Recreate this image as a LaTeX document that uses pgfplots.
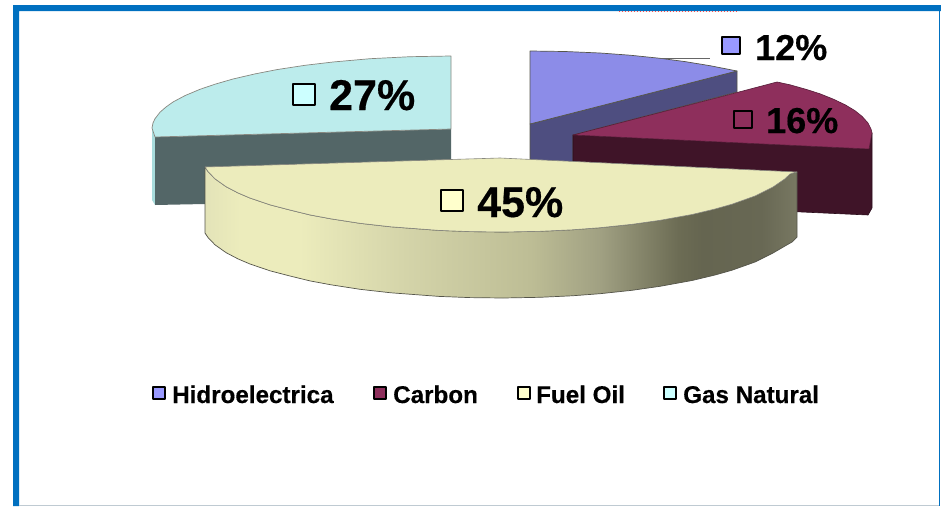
\documentclass[border=0pt]{standalone}
\usepackage{fontspec}
\setmainfont{Liberation Sans}[BoldFeatures={FakeBold=0.4}]
\usepackage{pgfplots}
\pgfplotsset{compat=1.18}

\definecolor{frameblue}{HTML}{0070C0}
\definecolor{hydroTop}{HTML}{8C8CE8}
\definecolor{hydroSide}{HTML}{4E4E80}
\definecolor{hydroKey}{HTML}{9999FF}
\definecolor{coalTop}{HTML}{8E2F5C}
\definecolor{coalSide}{HTML}{3F1428}
\definecolor{oilTop}{HTML}{ECECBC}
\definecolor{oilKey}{HTML}{FFFFCC}
\definecolor{gasTop}{HTML}{BCECEC}
\definecolor{gasSide}{HTML}{536667}
\definecolor{gasEdge}{HTML}{A8DCDC}
\definecolor{gasKey}{HTML}{CCFFFF}
\definecolor{rimline}{HTML}{55554A}
\definecolor{rimA}{HTML}{E3E3B8}
\definecolor{rimB}{HTML}{D5D5AA}
\definecolor{rimC}{HTML}{BDBD95}
\definecolor{rimD}{HTML}{A0A082}
\definecolor{rimE}{HTML}{6C6C54}
\definecolor{rimF}{HTML}{656550}
\definecolor{rimG}{HTML}{686854}
\definecolor{rimH}{HTML}{787862}

% Cylindrical light falling across the rim of the fuel oil slice
\pgfdeclarehorizontalshading{oilrim}{100bp}{
  color(0bp)=(rimA);
  color(25bp)=(rimA);
  color(28bp)=(oilTop);
  color(33bp)=(oilTop);
  color(41.5bp)=(rimB);
  color(52.5bp)=(rimC);
  color(58.4bp)=(rimD);
  color(65bp)=(rimE);
  color(67bp)=(rimF);
  color(72bp)=(rimG);
  color(75bp)=(rimH);
  color(100bp)=(rimH)}

\newcommand{\pct}[4]{\node[anchor=base west,inner sep=0pt,font=\fontsize{#3}{#3}\selectfont\bfseries] at (axis cs:#1,#2) {#4};}
\newcommand{\key}[3]{\node[anchor=base west,inner sep=0pt,font=\fontsize{24.2}{24}\selectfont\bfseries] at (axis cs:#1,#2) {#3};}

\begin{document}
\begin{tikzpicture}
\begin{axis}[
  width=941pt, height=506pt, scale only axis,
  xmin=0, xmax=941, ymin=0, ymax=506, y dir=reverse,
  hide axis, enlargelimits=false,
  every axis plot/.append style={line join=round},
  slice/.style={draw=rimline, line width=0.7pt},
  swatch/.style={draw=black, line width=1.7pt},
]
% Slide background and frame
\addplot[fill=white, draw=none] coordinates {(0,0) (941,0) (941,506) (0,506)} --cycle;
\addplot[fill=frameblue, draw=none] coordinates {(13,5) (941,5) (941,11) (19,11) (19,506) (13,506)} --cycle;
\addplot[draw=frameblue, line width=1pt] coordinates {(939.5,11) (939.5,506)};
\addplot[draw=frameblue!25!gray!40, line width=1pt] coordinates {(19,505.5) (939,505.5)};
\addplot[draw=red!70, line width=1pt, dotted] coordinates {(619,11.8) (738,11.8)};

% Gas Natural, 27%
\addplot[fill=gasEdge, draw=none] coordinates {(152,128) (155,137) (155,205) (152,200)} --cycle;
\addplot[fill=gasSide, draw=none] coordinates {(155,137) (451,129) (451,162) (205,170) (205,204) (155,205)} --cycle;
\addplot[fill=gasTop, slice, draw=rimline!70] coordinates {(451,56) (410,56.7) (370,58.7) (333,62) (305,65.3) (277,69.6) (255,73.9) (233,79) (215,84.2) (200,89.3) (185,95.6) (173,102) (166,107) (160,112.2) (155,118.7) (153,123) (152,128) (155,137) (451,129)} --cycle;

% Hidroelectrica, 12%
\addplot[fill=hydroSide, slice] coordinates {(530,124) (737,71) (737,92) (573,135) (573,165) (530,165)} --cycle;
\addplot[fill=hydroTop, slice] coordinates {(530,51) (565,51.5) (600,53) (630,55.2) (660,58.3) (685,61.6) (710,65.7) (737,71) (530,124)} --cycle;
\addplot[draw=gray!80!black, line width=0.8pt] coordinates {(660,58) (710,58)};

% Carbon, 16%
\addplot[fill=coalSide, draw=coalSide!70!black, line width=0.6pt] coordinates {(573,135) (869,149) (872,133) (872,208) (868,215) (780,211) (573,202)} --cycle;
\addplot[fill=coalTop, draw=coalTop!60!black, line width=0.6pt] coordinates {(573,135) (720,97) (777,82) (790,84.8) (807,89.6) (820,93.8) (833,99) (845,104.7) (855,110.7) (862,116.3) (868,123) (871,129) (872,133) (869,149)} --cycle;

% Fuel Oil, 45%
\addplot[shading=oilrim, draw=rimline, line width=0.7pt] coordinates {(205,167) (205,233) (208,237.5) (215,244.8) (226,252.6) (238,258.9) (250,264) (270,270.8) (290,276) (310,280.9) (331,284.8) (360,289.3) (391,292.8) (439,296.4) (470,297.6) (503,298) (540,297.3) (572,295.8) (600,293.7) (632,290.3) (660,286.3) (692,280.5) (715,275) (732,270.2) (755,262) (773,253) (785,246) (792,242) (797,237) (797,172) (790,174) (785,178.8) (773,187) (755,196) (732,204.2) (715,209) (692,214.5) (660,220.3) (632,224.3) (600,227.7) (572,229.8) (540,231.3) (503,232) (470,231.6) (439,230.4) (391,226.8) (360,223.3) (331,218.8) (310,214.9) (290,210) (270,204.8) (250,198) (238,192.9) (226,186.6) (215,178.8) (208,171.5)} --cycle;
\addplot[fill=oilTop, draw=rimline!70, line width=0.6pt] coordinates {(205,167) (500,158) (797,172) (790,174) (785,178.8) (773,187) (755,196) (732,204.2) (715,209) (692,214.5) (660,220.3) (632,224.3) (600,227.7) (572,229.8) (540,231.3) (503,232) (470,231.6) (439,230.4) (391,226.8) (360,223.3) (331,218.8) (310,214.9) (290,210) (270,204.8) (250,198) (238,192.9) (226,186.6) (215,178.8) (208,171.5)} --cycle;

% Data labels with their colour keys
\addplot[fill=hydroKey, swatch] coordinates {(722,37) (740,37) (740,54) (722,54)} --cycle;
\addplot[fill=coalTop, swatch] coordinates {(734,111) (752,111) (752,128) (734,128)} --cycle;
\addplot[fill=oilKey, swatch] coordinates {(441,190) (463,190) (463,211) (441,211)} --cycle;
\addplot[fill=gasKey, swatch] coordinates {(293,84) (315,84) (315,105) (293,105)} --cycle;
\pct{755}{60}{36}{12\%}
\pct{766}{133}{36}{16\%}
\pct{477}{217}{43}{45\%}
\pct{329}{110}{43}{27\%}

% Legend
\addplot[fill=hydroKey, swatch, line width=1.3pt] coordinates {(153,387) (165,387) (165,399) (153,399)} --cycle;
\addplot[fill=coalTop, swatch, line width=1.3pt] coordinates {(374,387) (386,387) (386,399) (374,399)} --cycle;
\addplot[fill=oilKey, swatch, line width=1.3pt] coordinates {(518,387) (530,387) (530,399) (518,399)} --cycle;
\addplot[fill=gasKey, swatch, line width=1.3pt] coordinates {(664,387) (676,387) (676,399) (664,399)} --cycle;
\key{172}{403}{Hidroelectrica}
\key{393}{403}{Carbon}
\key{536}{403}{Fuel Oil}
\key{683}{403}{Gas Natural}
\end{axis}
\end{tikzpicture}
\end{document}
